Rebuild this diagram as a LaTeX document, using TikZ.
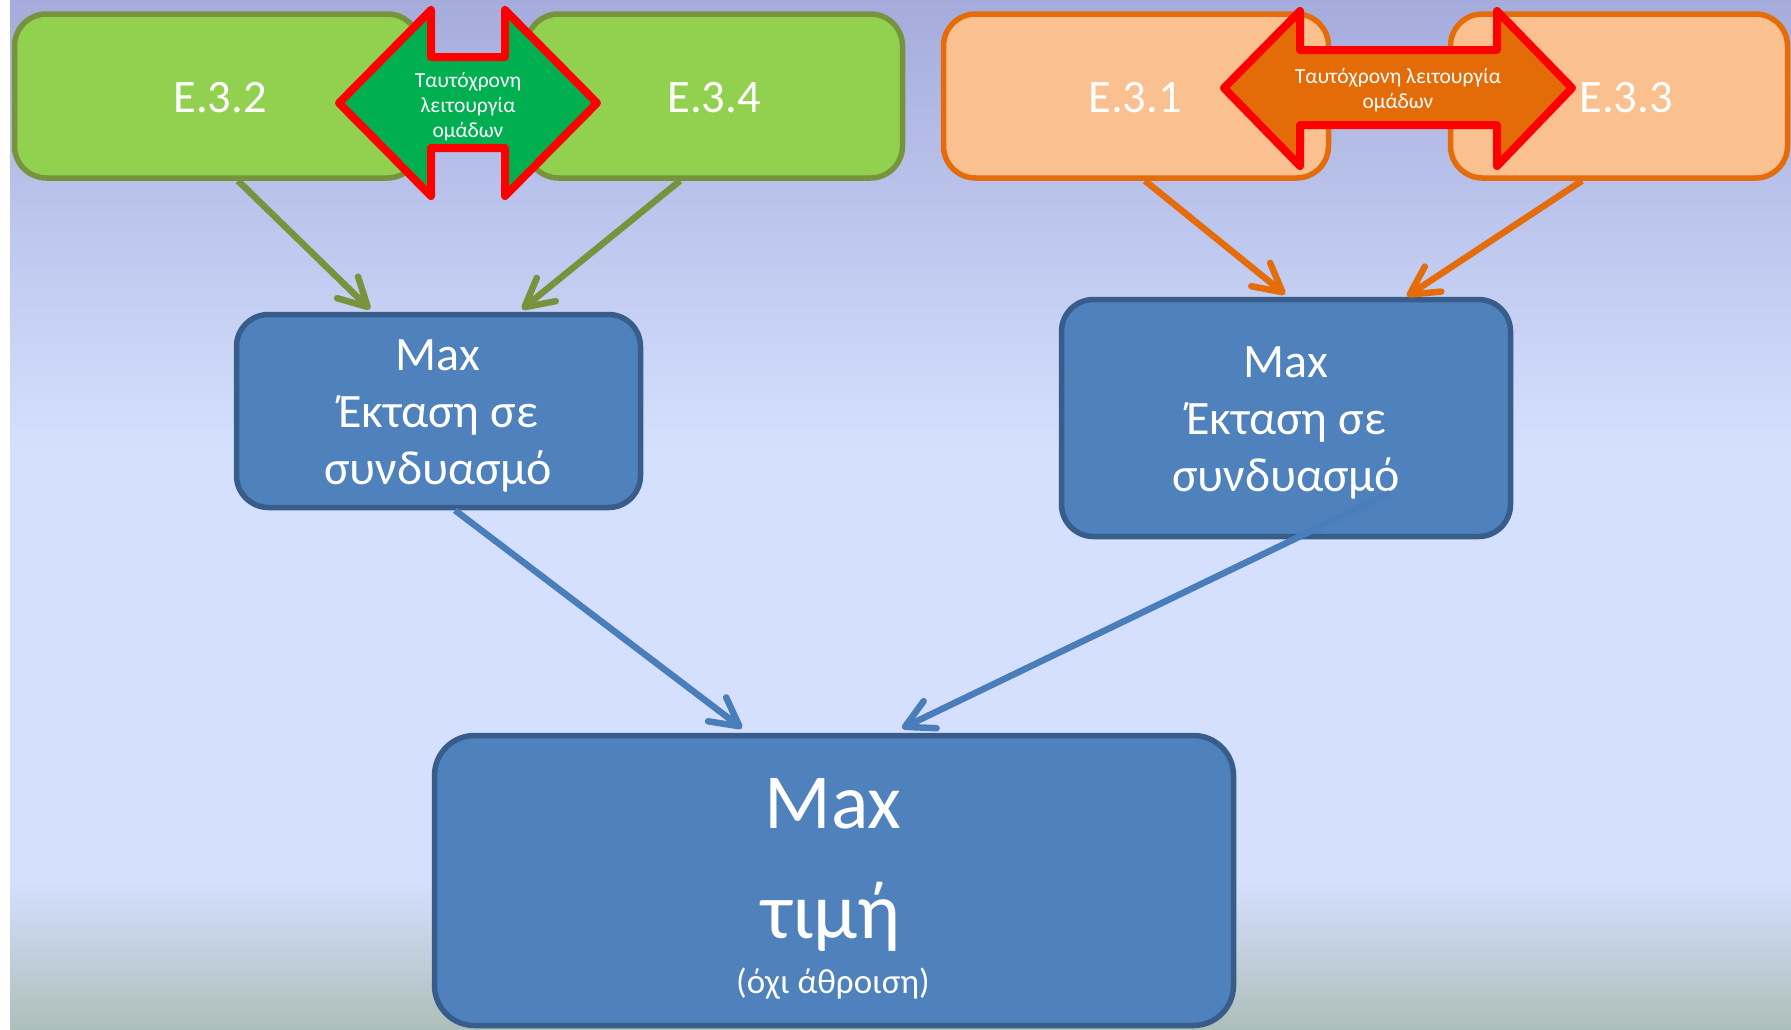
\documentclass[tikz,border=0pt]{standalone}
\usepackage{fontspec}
\setmainfont{Carlito}
\usetikzlibrary{arrows.meta}
\definecolor{bgtop}{HTML}{A5ACDC}
\definecolor{bgmid}{HTML}{D5E0FE}
\definecolor{bgbot}{HTML}{ADBFBA}
\definecolor{grnfill}{HTML}{92D050}
\definecolor{grnline}{HTML}{77933C}
\definecolor{orgfill}{HTML}{FAC090}
\definecolor{orgline}{HTML}{E46C0A}
\definecolor{blufill}{HTML}{4F81BD}
\definecolor{bluline}{HTML}{385D8A}
\definecolor{bluarrow}{HTML}{4A7EBB}
\definecolor{dblgreen}{HTML}{00B050}
\definecolor{dblorange}{HTML}{E36C09}
\begin{document}
\begin{tikzpicture}[x=1pt,y=-1pt,
  boxbase/.style={line width=5.5pt, rounded corners=32pt, inner sep=0pt},
  gbox/.style={boxbase, draw=grnline, fill=grnfill},
  obox/.style={boxbase, draw=orgline, fill=orgfill},
  bbox/.style={boxbase, draw=bluline, fill=blufill},
  txt/.style={text=white, anchor=base, inner sep=0pt},
  etxt/.style={txt, font=\fontsize{46.5}{56}\selectfont},
  mtxt/.style={txt, font=\fontsize{48}{57}\selectfont},
  stxt/.style={txt, font=\fontsize{21.5}{25}\selectfont},
  dblshape/.style={draw=red, line width=8pt, line join=round},
  barb/.tip={Straight Barb[length=28pt,width=30pt,round]},
  conn/.style={line width=6.5pt, -barb},
  garrow/.style={conn, draw=grnline},
  oarrow/.style={conn, draw=orgline},
  barrow/.style={conn, draw=bluarrow},
]
\useasboundingbox (0,0) rectangle (1791,1029);
\clip (0,0) rectangle (1791,1029);
% background
\fill[white] (0,0) rectangle (1791,1029);
\shade[top color=bgtop, bottom color=bgmid] (10,0) rectangle (1791,452);
\fill[bgmid] (10,450) rectangle (1791,882);
\shade[top color=bgmid, bottom color=bgbot] (10,880) rectangle (1791,1029);

% top boxes
\node[gbox, minimum width=405pt, minimum height=164pt] (e32) at (217,96) {};
\node[gbox, minimum width=376pt, minimum height=164pt] (e34) at (714.5,96) {};
\node[obox, minimum width=385pt, minimum height=164pt] (e31) at (1136,96) {};
\node[obox, minimum width=337pt, minimum height=164pt] (e33) at (1619,96) {};

\node[etxt] (t32) at (220,112) {E.3.2};
\node[etxt] (t34) at (714,112) {E.3.4};
\node[etxt] (t31) at (1135,112) {E.3.1};
\node[etxt] (t33) at (1626,112) {E.3.3};

% double arrows
\draw[dblshape, fill=dblgreen] (339,103) -- (431,10) -- (431,57) -- (505,57) -- (505,10) -- (597,103)
  -- (505,196) -- (505,148) -- (431,148) -- (431,196) -- cycle;
\node[stxt] (g1) at (468,87) {Ταυτόχρονη};
\node[stxt] (g2) at (468,112) {λειτουργία};
\node[stxt] (g3) at (468,137) {ομάδων};

\draw[dblshape, fill=dblorange] (1224,88) -- (1300,11) -- (1300,50) -- (1497,50) -- (1497,11) -- (1572,88)
  -- (1497,166) -- (1497,125) -- (1300,125) -- (1300,166) -- cycle;
\node[stxt] (o1) at (1398,83) {Ταυτόχρονη λειτουργία};
\node[stxt] (o2) at (1398,108) {ομάδων};

% middle boxes
\node[bbox, minimum width=404pt, minimum height=193pt] (m1) at (438.5,411) {};
\node[mtxt] (m1a) at (438,370) {Max};
\node[mtxt] (m1b) at (438,427) {Έκταση σε};
\node[mtxt] (m1c) at (438,484) {συνδυασμό};

\node[bbox, minimum width=449pt, minimum height=237pt] (m2) at (1286,418) {};
\node[mtxt] (m2a) at (1286,377) {Max};
\node[mtxt] (m2b) at (1286,434) {Έκταση σε};
\node[mtxt] (m2c) at (1286,491) {συνδυασμό};

% bottom box
\node[bbox, rounded corners=40pt, minimum width=799pt, minimum height=290pt] (big) at (834,880.5) {};
\node[txt, font=\fontsize{78}{94}\selectfont] (b1) at (833,828) {Max};
\node[txt, font=\fontsize{80}{96}\selectfont] (b2) at (831,938) {τιμή};
\node[txt, font=\fontsize{35}{42}\selectfont] (b3) at (833,993) {(όχι άθροιση)};

% connectors
\draw[garrow] ([xshift=21pt]e32.south) -- ([xshift=-68.5pt,yshift=2.5pt]m1.north);
\draw[garrow] ([xshift=-34.5pt]e34.south) -- ([xshift=83.5pt,yshift=2.5pt]m1.north);
\draw[oarrow] ([xshift=9pt]e31.south) -- ([xshift=-1pt,yshift=2.5pt]m2.north);
\draw[oarrow] ([xshift=-37pt]e33.south) -- ([xshift=121pt,yshift=0.5pt]m2.north);
\draw[barrow] ([xshift=16.5pt]m1.south) -- ([xshift=-92pt,yshift=4.5pt]big.north);
\draw[barrow] ([xshift=104pt,yshift=-75pt]m2.center) -- ([xshift=68pt,yshift=4.5pt]big.north);
\end{tikzpicture}
\end{document}
